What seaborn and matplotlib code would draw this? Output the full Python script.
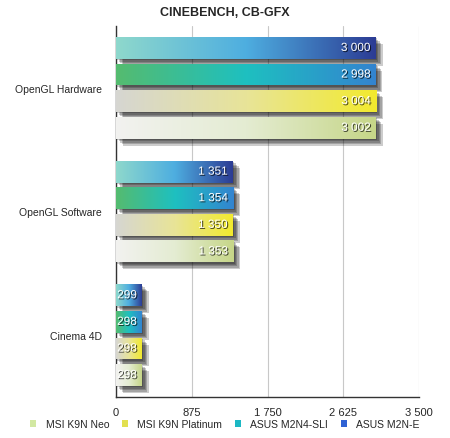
import numpy as np
import pandas as pd
import matplotlib
matplotlib.use('Agg')
import matplotlib.pyplot as plt
import matplotlib.patheffects as pe
from matplotlib.colors import LinearSegmentedColormap
from matplotlib.patches import Patch
import seaborn as sns

categories = ['OpenGL Hardware', 'OpenGL Software', 'Cinema 4D']
boards = ['ASUS M2N-E', 'ASUS M2N4-SLI', 'MSI K9N Platinum', 'MSI K9N Neo']
m2n_e = [3000, 1351, 299]
m2n4_sli = [2998, 1354, 298]
k9n_platinum = [3004, 1350, 298]
k9n_neo = [3002, 1353, 298]
ticks = [0, 875, 1750, 2625, 3500]
tick_labels = ['0', '875', '1 750', '2 625', '3 500']

gradients = {
    'ASUS M2N-E': ['#8ed8cc', '#4eaee0', '#2c3c94'],
    'ASUS M2N4-SLI': ['#55bb6f', '#1ec0c0', '#3384d0'],
    'MSI K9N Platinum': ['#d6d6d2', '#e8e498', '#f2ea2e'],
    'MSI K9N Neo': ['#f2f2f0', '#e4ecd2', '#c6d688'],
}
swatch = {
    'MSI K9N Neo': '#d2e8a2',
    'MSI K9N Platinum': '#e2e050',
    'ASUS M2N4-SLI': '#1cb8c4',
    'ASUS M2N-E': '#2f62d4',
}

rows = []
for b, vals in zip(boards, [m2n_e, m2n4_sli, k9n_platinum, k9n_neo]):
    for c, v in zip(categories, vals):
        rows.append({'test': c, 'board': b, 'score': v})
df = pd.DataFrame(rows)

sns.set_style('white')
plt.rcParams['font.family'] = ['Liberation Sans', 'DejaVu Sans']

fig = plt.figure(figsize=(4.5, 4.39), dpi=100)
ax = fig.add_axes([116 / 450, 1 - 398 / 439, 303 / 450, 371 / 439])

sns.barplot(data=df, x='score', y='test', hue='board', hue_order=boards,
            order=categories, orient='h', width=0.86, gap=0.18,
            ax=ax, legend=False, edgecolor='none', zorder=3)

ax.set_xlim(0, 3500)
ax.set_ylim(2.5, -0.5)

# soft drop shadow: a stack of faint offset copies
shadow = [pe.SimplePatchShadow(offset=(1 + k, -1 - k), shadow_rgbFace='k', alpha=0.2)
          for k in range(5)]

grad = np.linspace(0, 1, 256).reshape(1, -1)
for cont, b in zip(ax.containers, boards):
    cmap = LinearSegmentedColormap.from_list(b, gradients[b])
    for bar in cont:
        bar.set_facecolor(gradients[b][-1])
        bar.set_path_effects(shadow + [pe.Normal()])
        x0, y0 = bar.get_x(), bar.get_y()
        w, h = bar.get_width(), bar.get_height()
        im = ax.imshow(grad, cmap=cmap, aspect='auto', extent=[x0, x0 + w, y0 + h, y0],
                       zorder=4, interpolation='bilinear')
        im.set_clip_path(bar)
        label = f'{int(bar.get_width()):,}'.replace(',', ' ')
        ax.text(x0 + w - 60, y0 + h / 2, label, ha='right', va='center', color='white',
                fontsize=8.5, zorder=6,
                path_effects=[pe.withSimplePatchShadow(offset=(0.8, -0.8), shadow_rgbFace='k', alpha=0.7)])

ax.set_xlim(0, 3500)
ax.set_ylim(2.5, -0.5)

ax.set_xticks(ticks)
ax.set_xticklabels(tick_labels, fontsize=8)
ax.tick_params(axis='x', length=0, pad=7)
ax.tick_params(axis='y', length=0, pad=10, labelsize=7.5)
ax.grid(axis='x', color='#c8c8c8', linewidth=0.8, zorder=0)
ax.set_axisbelow(True)
ax.set_xlabel('')
ax.set_ylabel('')
for s in ['top', 'right']:
    ax.spines[s].set_visible(False)
for s in ['left', 'bottom']:
    ax.spines[s].set_color('#333333')
    ax.spines[s].set_linewidth(1.0)

fig.text(0.5, 1 - 13 / 439, 'CINEBENCH, CB-GFX', ha='center', va='center',
         fontsize=9, fontweight='bold')

leg_order = ['MSI K9N Neo', 'MSI K9N Platinum', 'ASUS M2N4-SLI', 'ASUS M2N-E']
handles = [Patch(facecolor=swatch[b], edgecolor='none') for b in leg_order]
fig.legend(handles, leg_order, loc='center', bbox_to_anchor=(0.5, 1 - 425 / 439),
           ncol=4, frameon=False, fontsize=7.5, handlelength=0.6, handleheight=0.7,
           handletextpad=0.9, columnspacing=1.2)

fig.savefig('out.png', dpi=100)
